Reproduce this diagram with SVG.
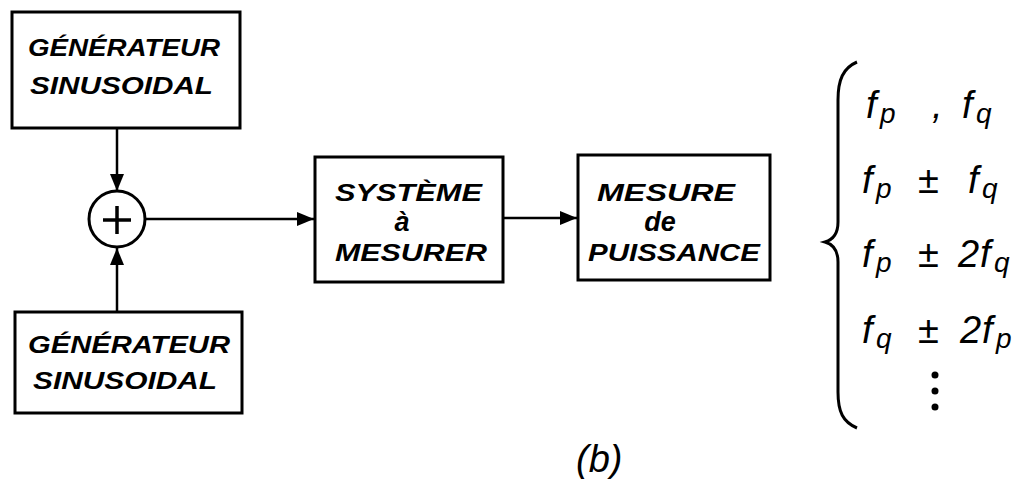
<svg xmlns="http://www.w3.org/2000/svg" width="1024" height="479" viewBox="0 0 1024 479">
  <style>
    .box { fill: #fff; stroke: #000; stroke-width: 3; }
    .wire { fill: none; stroke: #000; stroke-width: 2.5; }
    .lbl { font-family: "Liberation Sans", Arial, sans-serif; font-style: italic; font-weight: bold; font-size: 23px; fill: #000; }
    .small { font-size: 27px; }
    .math { font-family: "Liberation Sans", Arial, sans-serif; font-style: italic; font-size: 38px; fill: #000; }
    .sub { font-size: 28px; }
  </style>
  <defs>
    <marker id="arrow" markerUnits="userSpaceOnUse" markerWidth="18" markerHeight="16" refX="17" refY="8" orient="auto">
      <path d="M0,1 L17,8 L0,15 Z" fill="#000"/>
    </marker>
  </defs>

  <!-- signal paths -->
  <g id="connectors">
    <line class="wire" x1="117" y1="128" x2="117" y2="191" marker-end="url(#arrow)"/>
    <line class="wire" x1="117" y1="312" x2="117" y2="248" marker-end="url(#arrow)"/>
    <line class="wire" x1="145" y1="219" x2="314" y2="219" marker-end="url(#arrow)"/>
    <line class="wire" x1="503" y1="218" x2="577" y2="218" marker-end="url(#arrow)"/>
  </g>

  <g id="gen-top">
    <rect class="box" x="12" y="12" width="228" height="116"/>
    <text class="lbl" x="28" y="56" textLength="192" lengthAdjust="spacingAndGlyphs">GÉNÉRATEUR</text>
    <text class="lbl" x="30" y="94" textLength="183" lengthAdjust="spacingAndGlyphs">SINUSOIDAL</text>
  </g>

  <g id="gen-bottom">
    <rect class="box" x="15" y="312" width="227" height="101"/>
    <text class="lbl" x="28" y="353" textLength="202" lengthAdjust="spacingAndGlyphs">GÉNÉRATEUR</text>
    <text class="lbl" x="33" y="389" textLength="184" lengthAdjust="spacingAndGlyphs">SINUSOIDAL</text>
  </g>

  <g id="summer">
    <circle cx="117" cy="219" r="28" fill="#fff" stroke="#000" stroke-width="3"/>
    <path d="M103,220 H131 M117,206 V234" stroke="#000" stroke-width="3.5" fill="none"/>
  </g>

  <g id="system">
    <rect class="box" x="315" y="157" width="188" height="125"/>
    <text class="lbl" x="335" y="201" textLength="147" lengthAdjust="spacingAndGlyphs">SYSTÈME</text>
    <text class="lbl small" x="402" y="231" text-anchor="middle">à</text>
    <text class="lbl" x="335" y="261" textLength="152" lengthAdjust="spacingAndGlyphs">MESURER</text>
  </g>

  <g id="power-meter">
    <rect class="box" x="578" y="155" width="192" height="125"/>
    <text class="lbl" x="597" y="201" textLength="138" lengthAdjust="spacingAndGlyphs">MESURE</text>
    <text class="lbl small" x="660" y="231" text-anchor="middle">de</text>
    <text class="lbl" x="588" y="261" textLength="172" lengthAdjust="spacingAndGlyphs">PUISSANCE</text>
  </g>

  <!-- output spectrum components -->
  <g id="spectrum">
    <path d="M857,62 C843,68 838,80 838,100 L838,222 C838,235 832,240 825,242 C832,244 838,250 838,262 L838,392 C838,412 843,422 857,428" fill="none" stroke="#000" stroke-width="3"/>
    <text class="math" y="118"><tspan x="866">f</tspan><tspan class="sub" x="880" dy="5">p</tspan><tspan x="932" dy="-5">,</tspan><tspan x="962">f</tspan><tspan class="sub" x="976" dy="5">q</tspan></text>
    <text class="math" y="193"><tspan x="862">f</tspan><tspan class="sub" x="876" dy="5">p</tspan><tspan x="918" dy="-5">±</tspan><tspan x="968">f</tspan><tspan class="sub" x="982" dy="5">q</tspan></text>
    <text class="math" y="267"><tspan x="862">f</tspan><tspan class="sub" x="876" dy="5">p</tspan><tspan x="918" dy="-5">±</tspan><tspan x="958">2</tspan><tspan x="980">f</tspan><tspan class="sub" x="994" dy="5">q</tspan></text>
    <text class="math" y="343"><tspan x="862">f</tspan><tspan class="sub" x="876" dy="5">q</tspan><tspan x="918" dy="-5">±</tspan><tspan x="960">2</tspan><tspan x="982">f</tspan><tspan class="sub" x="996" dy="5">p</tspan></text>
    <circle cx="935" cy="375" r="3.5" fill="#000"/>
    <circle cx="935" cy="391" r="3.5" fill="#000"/>
    <circle cx="935" cy="407" r="3.5" fill="#000"/>
  </g>

  <text class="math" x="576" y="472" font-size="44">(b)</text>
</svg>
